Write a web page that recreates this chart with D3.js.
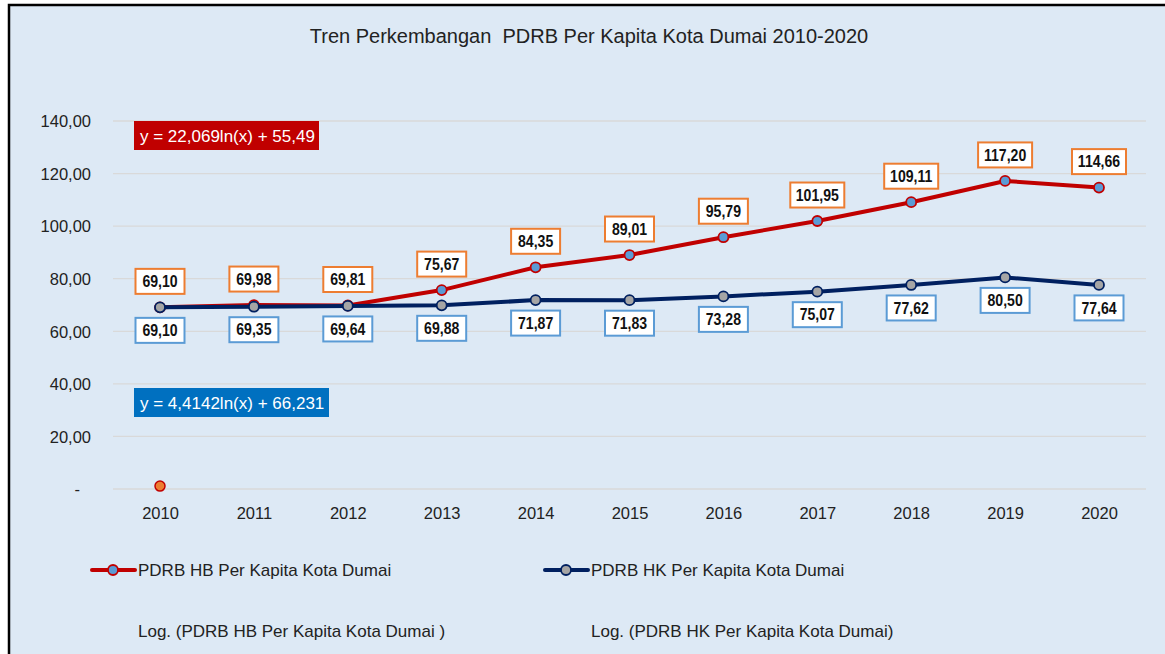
<!DOCTYPE html>
<html><head><meta charset="utf-8">
<script src="https://cdn.jsdelivr.net/npm/d3@7"></script>
<style>
html,body{margin:0;padding:0;background:#fff;}
svg{display:block;}
text{font-family:"Liberation Sans",Arial,sans-serif;white-space:pre;}
</style></head><body>
<svg id="c" width="1165" height="654"></svg>
<script>
const years = ["2010","2011","2012","2013","2014","2015","2016","2017","2018","2019","2020"];
const hbValues = [69.10, 69.98, 69.81, 75.67, 84.35, 89.01, 95.79, 101.95, 109.11, 117.20, 114.66];
const hkValues = [69.10, 69.35, 69.64, 69.88, 71.87, 71.83, 73.28, 75.07, 77.62, 80.50, 77.64];
const trendMarker = [{year:"2010", value:1.1}];
const yTicks = [0,20,40,60,80,100,120,140];
const titleText = "Tren Perkembangan  PDRB Per Kapita Kota Dumai 2010-2020";
const hbName = "PDRB HB Per Kapita Kota Dumai";
const hkName = "PDRB HK Per Kapita Kota Dumai";
const hbLogName = "Log. (PDRB HB Per Kapita Kota Dumai )";
const hkLogName = "Log. (PDRB HK Per Kapita Kota Dumai)";
const hbEq = "y = 22,069ln(x) + 55,49";
const hkEq = "y = 4,4142ln(x) + 66,231";

const svg = d3.select("#c");
// frame
svg.append("rect").attr("x",9).attr("y",5).attr("width",1165).attr("height",660)
  .attr("fill","#dde9f5").attr("stroke","#000").attr("stroke-width",2.5);

const x = d3.scalePoint().domain(years).range([160,1099]);
const y = d3.scaleLinear().domain([0,140]).range([489,121]);
const fmt = v => v.toFixed(2).replace(".",",");

// grid
svg.append("g").selectAll("line").data(yTicks).join("line")
  .attr("x1",113).attr("x2",1146).attr("y1",d=>y(d)).attr("y2",d=>y(d))
  .attr("stroke","#d9d9d9").attr("stroke-width",1.3);

// y axis
const yAxis = d3.axisLeft(y).tickValues(yTicks).tickSize(0).tickPadding(0)
  .tickFormat(d=> d===0 ? "-" : fmt(d));
const gy = svg.append("g").attr("transform","translate(91,0)").call(yAxis);
gy.select(".domain").remove();
gy.selectAll("text").attr("font-size",16.5).attr("fill","#222").attr("dy","0.35em")
  .style("font-family",'"Liberation Sans",Arial,sans-serif');
gy.selectAll(".tick").filter(d=>d===0).select("text").attr("x",-11);

// x axis
const xAxis = d3.axisBottom(x).tickSize(0).tickPadding(0);
const gx = svg.append("g").attr("transform","translate(0,507)").call(xAxis);
gx.select(".domain").remove();
gx.selectAll("text").attr("font-size",16.5).attr("fill","#222").attr("dy","0.71em")
  .style("font-family",'"Liberation Sans",Arial,sans-serif');

// title
svg.append("text").attr("x",589).attr("y",43).attr("text-anchor","middle")
  .attr("font-size",20).attr("fill","#222").text(titleText);

const line = d3.line().x((d,i)=>x(years[i])).y(d=>y(d));

// HB series
svg.append("path").datum(hbValues).attr("d",line).attr("fill","none")
  .attr("stroke","#c00000").attr("stroke-width",4).attr("stroke-linejoin","round");
svg.append("g").selectAll("circle").data(hbValues).join("circle")
  .attr("cx",(d,i)=>x(years[i])).attr("cy",d=>y(d)).attr("r",5)
  .attr("fill","#5b9bd5").attr("stroke","#c00000").attr("stroke-width",1.8);

// HK series
svg.append("path").datum(hkValues).attr("d",line).attr("fill","none")
  .attr("stroke","#002060").attr("stroke-width",4).attr("stroke-linejoin","round");
svg.append("g").selectAll("circle").data(hkValues).join("circle")
  .attr("cx",(d,i)=>x(years[i])).attr("cy",d=>y(d)).attr("r",5)
  .attr("fill","#a5a5a5").attr("stroke","#002060").attr("stroke-width",1.8);

// trend marker
svg.append("g").selectAll("circle").data(trendMarker).join("circle")
  .attr("cx",d=>x(d.year)).attr("cy",d=>y(d.value)).attr("r",5)
  .attr("fill","#ed7d31").attr("stroke","#c00000").attr("stroke-width",1.5);

// labels
function labels(vals, offset, stroke){
  const g = svg.append("g");
  vals.forEach((v,i)=>{
    const cx = x(years[i]), cy = y(v)+offset;
    const t = fmt(v);
    const w = t.length>5 ? 54 : 49;
    g.append("rect").attr("x",cx-w/2).attr("y",cy-12.5).attr("width",w).attr("height",25)
      .attr("fill","#fff").attr("stroke",stroke).attr("stroke-width",2);
    g.append("text").attr("transform",`translate(${cx},${cy}) scale(0.88,1)`)
      .attr("dy","0.36em").attr("text-anchor","middle")
      .attr("font-size",16).attr("font-weight","bold").attr("fill","#111").text(t);
  });
}
labels(hbValues, -26, "#ed7d31");
labels(hkValues, 23, "#5b9bd5");

// equation boxes
function eq(xp, yp, w, txt, fill){
  svg.append("rect").attr("x",xp).attr("y",yp).attr("width",w).attr("height",29).attr("fill",fill);
  svg.append("text").attr("x",xp+6).attr("y",yp+15).attr("dy","0.36em")
    .attr("font-size",17).attr("fill","#fff").text(txt);
}
eq(134,121,185,hbEq,"#c00000");
eq(134,388,195,hkEq,"#0070c0");

// legend
function legendItem(lx, ly, color, fill, txt){
  svg.append("line").attr("x1",lx).attr("x2",lx+43).attr("y1",ly).attr("y2",ly)
    .attr("stroke",color).attr("stroke-width",4).attr("stroke-linecap","round");
  svg.append("circle").attr("cx",lx+21).attr("cy",ly).attr("r",5)
    .attr("fill",fill).attr("stroke",color).attr("stroke-width",1.8);
  svg.append("text").attr("x",lx+46).attr("y",ly).attr("dy","0.36em")
    .attr("font-size",17).attr("fill","#222").text(txt);
}
legendItem(92,570,"#c00000","#5b9bd5",hbName);
legendItem(545,570,"#002060","#a5a5a5",hkName);
svg.append("text").attr("x",138).attr("y",631).attr("dy","0.36em")
  .attr("font-size",17).attr("fill","#222").text(hbLogName);
svg.append("text").attr("x",591).attr("y",631).attr("dy","0.36em")
  .attr("font-size",17).attr("fill","#222").text(hkLogName);
</script>
</body></html>
